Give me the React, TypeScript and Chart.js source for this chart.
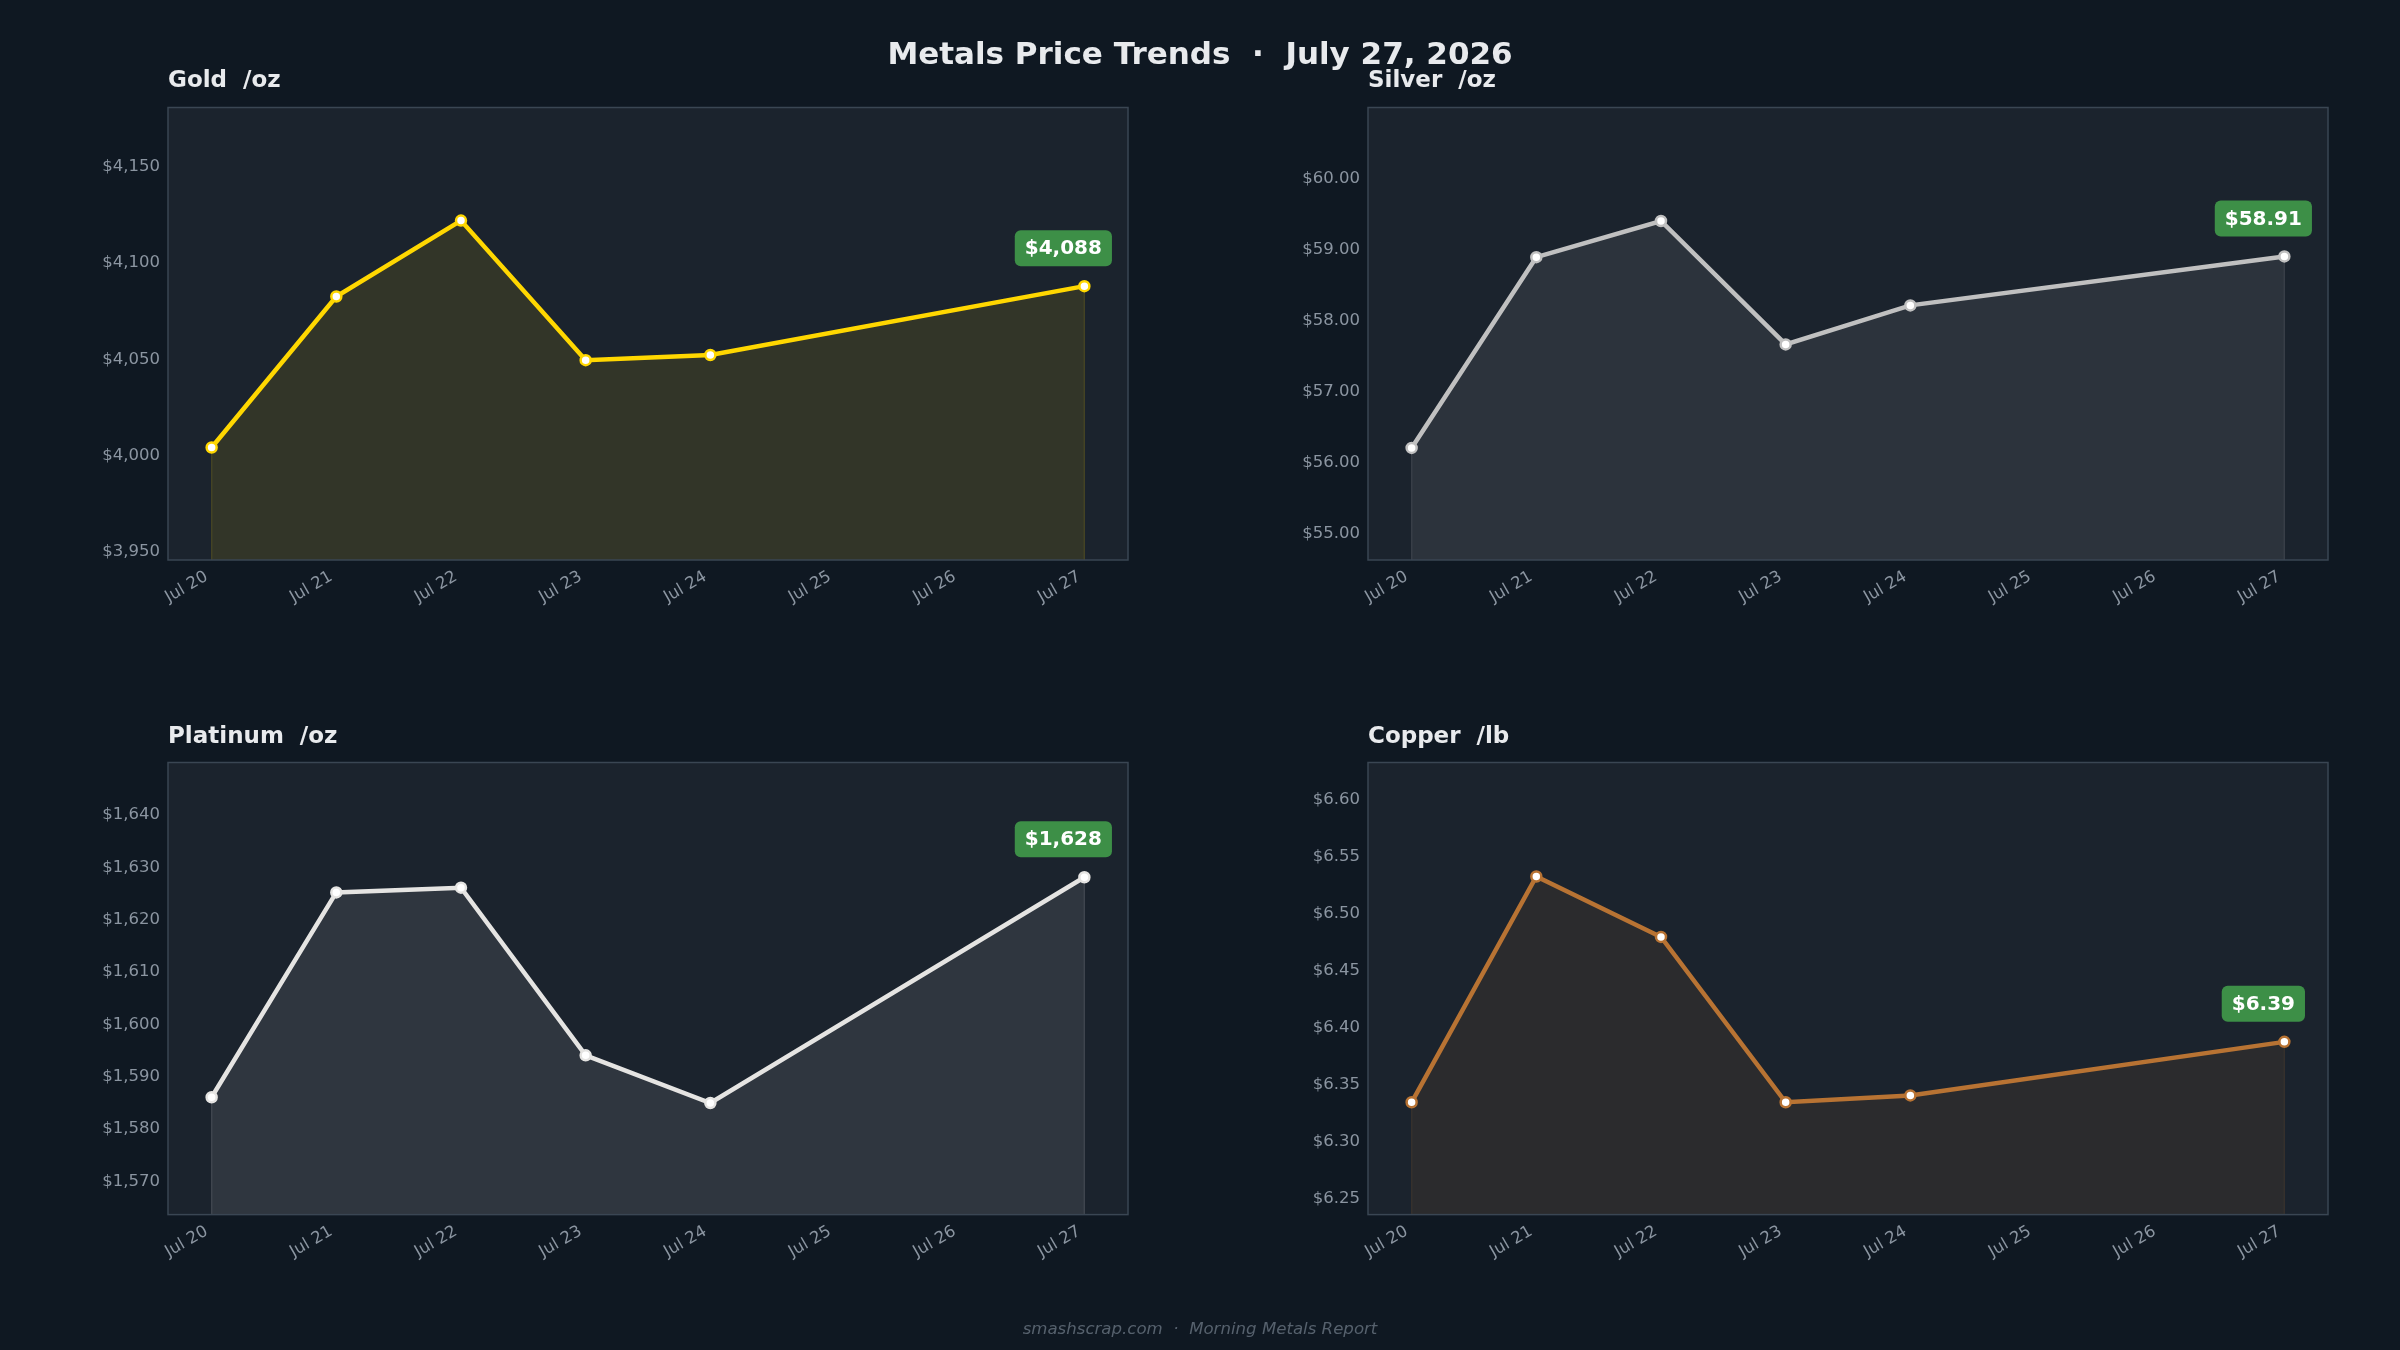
import React, { useEffect, useRef } from "react";
import { Chart, registerables } from "chart.js";

Chart.register(...registerables);

// ---- Data ----
const dayLabels = ["Jul 20", "Jul 21", "Jul 22", "Jul 23", "Jul 24", "Jul 25", "Jul 26", "Jul 27"];
const tradingDayIndex = [0, 1, 2, 3, 4, 7];

const goldPrices = [4004.1, 4082.6, 4122.1, 4049.5, 4052.2, 4088.0];
const silverPrices = [56.21, 58.9, 59.41, 57.67, 58.22, 58.91];
const platinumPrices = [1586.1, 1625.2, 1626.1, 1594.1, 1585.0, 1628.1];
const copperPrices = [6.335, 6.533, 6.48, 6.335, 6.341, 6.388];

const goldTicks = [3950, 4000, 4050, 4100, 4150];
const silverTicks = [55, 56, 57, 58, 59, 60];
const platinumTicks = [1570, 1580, 1590, 1600, 1610, 1620, 1630, 1640];
const copperTicks = [6.25, 6.3, 6.35, 6.4, 6.45, 6.5, 6.55, 6.6];

const goldRange = [3945.6, 4180.9];
const silverRange = [54.63, 61.01];
const platinumRange = [1563.7, 1650.0];
const copperRange = [6.2365, 6.633];

const goldBadge = "$4,088";
const silverBadge = "$58.91";
const platinumBadge = "$1,628";
const copperBadge = "$6.39";

const FONT = '"DejaVu Sans", "Liberation Sans", sans-serif';
const BG = "#0f1822";
const PLOT_BG = "#1b232d";
const BORDER = "#3a4653";
const TICK_COLOR = "#8b95a1";

const fmtThousands = (v: number) => "$" + Math.round(v).toLocaleString("en-US");
const fmtCents = (v: number) => "$" + v.toFixed(2);

function hexToRgba(hex: string, a: number) {
  const n = parseInt(hex.slice(1), 16);
  return `rgba(${(n >> 16) & 255},${(n >> 8) & 255},${n & 255},${a})`;
}

const panelPlugin = {
  id: "panel",
  beforeDraw(chart: any) {
    const { ctx, chartArea } = chart;
    ctx.save();
    ctx.fillStyle = PLOT_BG;
    ctx.fillRect(chartArea.left, chartArea.top, chartArea.right - chartArea.left, chartArea.bottom - chartArea.top);
    ctx.restore();
  },
  beforeDatasetsDraw(chart: any, _args: any, opts: any) {
    const { ctx, chartArea } = chart;
    const meta = chart.getDatasetMeta(0);
    const pts = meta.data;
    ctx.save();
    ctx.strokeStyle = hexToRgba(opts.color, 0.18);
    ctx.lineWidth = 1.2;
    [pts[0], pts[pts.length - 1]].forEach((p: any) => {
      ctx.beginPath();
      ctx.moveTo(p.x, p.y);
      ctx.lineTo(p.x, chartArea.bottom);
      ctx.stroke();
    });
    ctx.restore();
  },
  afterDraw(chart: any, _args: any, opts: any) {
    const { ctx, chartArea } = chart;
    ctx.save();
    ctx.strokeStyle = BORDER;
    ctx.lineWidth = 1.5;
    ctx.strokeRect(chartArea.left, chartArea.top, chartArea.right - chartArea.left, chartArea.bottom - chartArea.top);
    const meta = chart.getDatasetMeta(0);
    const last = meta.data[meta.data.length - 1];
    const cx = last.x - 21;
    const cy = last.y - 38;
    ctx.font = `bold 20px ${FONT}`;
    const tw = ctx.measureText(opts.badge).width;
    const w = tw + 20;
    const h = 36;
    ctx.fillStyle = "#3d8f47";
    ctx.beginPath();
    ctx.roundRect(cx - w / 2, cy - h / 2, w, h, 6);
    ctx.fill();
    ctx.fillStyle = "#ffffff";
    ctx.textAlign = "center";
    ctx.textBaseline = "middle";
    ctx.fillText(opts.badge, cx, cy + 1);
    ctx.restore();
  },
};

type PanelProps = {
  left: number;
  top: number;
  padTop: number;
  padBottom: number;
  values: number[];
  color: string;
  ticks: number[];
  range: number[];
  fmt: (v: number) => string;
  badge: string;
  lineWidth: number;
};

function Panel(p: PanelProps) {
  const ref = useRef<HTMLCanvasElement>(null);
  useEffect(() => {
    const canvas = ref.current!;
    const chart = new Chart(canvas, {
      type: "line",
      data: {
        datasets: [
          {
            data: tradingDayIndex.map((d, i) => ({ x: d, y: p.values[i] })),
            borderColor: p.color,
            borderWidth: p.lineWidth,
            backgroundColor: hexToRgba(p.color, 0.1),
            fill: "start",
            tension: 0,
            pointRadius: 5,
            pointBorderWidth: 2.5,
            pointBackgroundColor: "#ffffff",
            pointBorderColor: p.color,
          },
        ],
      },
      options: {
        responsive: false,
        animation: false,
        layout: { padding: { left: 58, right: 72, top: p.padTop, bottom: p.padBottom } },
        plugins: {
          legend: { display: false },
          tooltip: { enabled: false },
          title: { display: false },
          panel: { color: p.color, badge: p.badge },
        } as any,
        scales: {
          x: {
            type: "linear",
            min: -0.35,
            max: 7.35,
            grid: { display: false, drawTicks: false },
            border: { display: false },
            afterBuildTicks: (scale: any) => {
              scale.ticks = dayLabels.map((_, i) => ({ value: i }));
            },
            afterFit: (scale: any) => {
              scale.height = 80;
            },
            ticks: {
              autoSkip: false,
              minRotation: 30,
              maxRotation: 30,
              padding: 7,
              labelOffset: -5,
              color: TICK_COLOR,
              font: { family: FONT, size: 16.5 },
              callback: (v: any) => dayLabels[Math.round(Number(v))],
            },
          },
          y: {
            type: "linear",
            min: p.range[0],
            max: p.range[1],
            grid: { display: false, drawTicks: false },
            border: { display: false },
            afterBuildTicks: (scale: any) => {
              scale.ticks = p.ticks.map((v) => ({ value: v }));
            },
            afterFit: (scale: any) => {
              scale.width = 110;
            },
            ticks: {
              padding: 8,
              color: TICK_COLOR,
              font: { family: FONT, size: 16.5 },
              callback: (v: any) => p.fmt(Number(v)),
            },
          },
        },
      },
      plugins: [panelPlugin],
    } as any);
    return () => chart.destroy();
  }, []);
  return (
    <canvas
      ref={ref}
      width={1200}
      height={675}
      style={{ position: "absolute", left: p.left, top: p.top, width: 1200, height: 675 }}
    />
  );
}

const titleStyle = (left: number, top: number): React.CSSProperties => ({
  position: "absolute",
  left,
  top,
  fontFamily: FONT,
  fontWeight: "bold",
  fontSize: 23,
  lineHeight: "23px",
  color: "#e8eaed",
  whiteSpace: "pre",
});

export default function App() {
  useEffect(() => {
    document.body.style.margin = "0";
    document.body.style.background = BG;
  }, []);
  return (
    <div
      style={{
        position: "absolute",
        left: 0,
        top: 0,
        width: 2400,
        height: 1350,
        background: BG,
        overflow: "hidden",
      }}
    >
      <Panel left={0} top={0} padTop={107.5} padBottom={35} values={goldPrices} color="#ffd700" ticks={goldTicks} range={goldRange} fmt={fmtThousands} badge={goldBadge} lineWidth={4.5} />
      <Panel left={1200} top={0} padTop={107.5} padBottom={35} values={silverPrices} color="#c0c0c0" ticks={silverTicks} range={silverRange} fmt={fmtCents} badge={silverBadge} lineWidth={4.5} />
      <Panel left={0} top={675} padTop={87.5} padBottom={55.4} values={platinumPrices} color="#e5e4e2" ticks={platinumTicks} range={platinumRange} fmt={fmtThousands} badge={platinumBadge} lineWidth={4.5} />
      <Panel left={1200} top={675} padTop={87.5} padBottom={55.4} values={copperPrices} color="#b87333" ticks={copperTicks} range={copperRange} fmt={fmtCents} badge={copperBadge} lineWidth={4.5} />

      <div
        style={{
          position: "absolute",
          left: 0,
          width: 2400,
          top: 37.8,
          textAlign: "center",
          fontFamily: FONT,
          fontWeight: "bold",
          fontSize: 31,
          lineHeight: "31px",
          color: "#e8eaed",
          whiteSpace: "pre",
        }}
      >
        {"Metals Price Trends  ·  July 27, 2026"}
      </div>
      <div style={titleStyle(168, 67.5)}>{"Gold  /oz"}</div>
      <div style={titleStyle(1368, 67.5)}>{"Silver  /oz"}</div>
      <div style={titleStyle(168, 723.5)}>{"Platinum  /oz"}</div>
      <div style={titleStyle(1368, 723.5)}>{"Copper  /lb"}</div>
      <div
        style={{
          position: "absolute",
          left: 0,
          width: 2400,
          top: 1321,
          textAlign: "center",
          fontFamily: FONT,
          fontStyle: "italic",
          fontSize: 16.6,
          lineHeight: "16.6px",
          color: "#56616d",
          whiteSpace: "pre",
        }}
      >
        {"smashscrap.com  ·  Morning Metals Report"}
      </div>
    </div>
  );
}
